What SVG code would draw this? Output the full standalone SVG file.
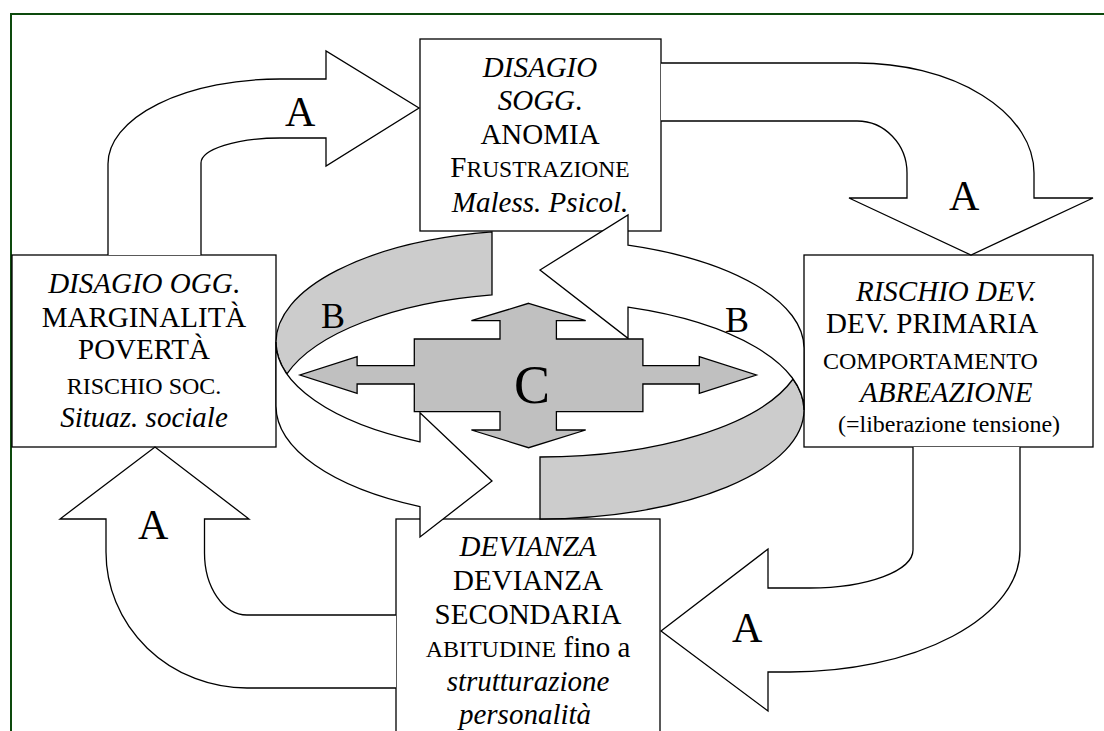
<svg xmlns="http://www.w3.org/2000/svg" width="1104" height="731" viewBox="0 0 1104 731">
<style>
.box{fill:#fff;stroke:#000;stroke-width:1.3}
.arr{fill:#fff;stroke:#000;stroke-width:1.3;stroke-linejoin:miter}
.back{fill:#cccccc;stroke:#000;stroke-width:1.3}
.cross{fill:#c0c0c0;stroke:#000;stroke-width:1.3}
text{font-family:"Liberation Serif","Times New Roman",serif;fill:#000}
.t{font-size:29px}
.s{font-size:24px}
.sc{font-size:23.5px}
.i{font-style:italic}
.lbl{font-size:42px}
.lb{font-size:36px}
.mid{text-anchor:middle}
</style>
<rect width="1104" height="731" fill="#fff"/>
<g id="frame" stroke="#0d4a0d" stroke-width="2" fill="none">
<path d="M11,731 L11,14 L1104,14"/>
</g>
<g id="n-top">
<rect class="box" x="420" y="39" width="241" height="192"/>
<text class="t i mid" x="540" y="77">DISAGIO</text>
<text class="t mid" x="540" y="110"><tspan font-style="italic">SOGG</tspan>.</text>
<text class="t mid" x="540" y="144">ANOMIA</text>
<text class="t mid" x="540" y="177">F<tspan class="sc">RUSTRAZIONE</tspan></text>
<text class="t i mid" x="540" y="211.5">Maless. Psicol.</text>
</g>
<g id="n-left">
<rect class="box" x="12" y="255" width="264" height="192"/>
<text class="t mid" x="144" y="292.5"><tspan font-style="italic">DISAGIO OGG</tspan>.</text>
<text class="t mid" x="144" y="327">MARGINALITÀ</text>
<text class="t mid" x="144" y="359">POVERTÀ</text>
<text class="s mid" x="144" y="394">RISCHIO SOC.</text>
<text class="t i mid" x="144" y="426.5">Situaz. sociale</text>
</g>
<g id="n-right">
<rect class="box" x="804" y="255" width="289" height="192"/>
<text class="t i" x="856" y="301">RISCHIO DEV.</text>
<text class="t" x="826" y="332.5">DEV. PRIMARIA</text>
<text class="s" x="823" y="369">COMPORTAMENTO</text>
<text class="t i" x="860" y="401.5">ABREAZIONE</text>
<text class="s" x="838" y="431.5">(=liberazione tensione)</text>
</g>
<g id="n-bottom">
<rect class="box" x="396" y="519" width="264" height="240"/>
<text class="t i mid" x="528" y="556">DEVIANZA</text>
<text class="t mid" x="528" y="590">DEVIANZA</text>
<text class="t mid" x="528" y="624">SECONDARIA</text>
<text class="t mid" x="528" y="657"><tspan class="s">ABITUDINE</tspan> fino a</text>
<text class="t i mid" x="528" y="690.5">strutturazione</text>
<text class="t i mid" x="525" y="724">personalità</text>
</g>
<g id="connectors">
<g id="a-left-top">
<path class="arr" d="M108,255 L108,164 A172 85 0 0 1 280,79 L326,79 L326,51 L419,108 L326,166 L326,138 L280,138 A79 25 0 0 0 201,163 L201,255"/>
<text class="lbl" x="285" y="126">A</text>
</g>
<g id="a-top-right">
<path class="arr" d="M661,63 L857,63 A177 110 0 0 1 1034,173 L1034,198 L1093,198 L971,255 L849,198 L907,198 L907,173 A50 52 0 0 0 857,121 L661,121"/>
<text class="lbl" x="949" y="210">A</text>
</g>
<g id="a-right-bottom">
<path class="arr" d="M913,447 L913,550 A103 38 0 0 1 810,588 L768,588 L768,549 L661,631 L768,711 L768,672 L790,672 A230 122 0 0 0 1020,550 L1020,447"/>
<text class="lbl" x="732" y="642">A</text>
</g>
<g id="a-bottom-left">
<path class="arr" d="M396,615 L247,615 A42.5 62 0 0 1 204.5,553 L204.5,519 L249,519 L155,447 L60,519 L106,519 L106,552 A141 136 0 0 0 247,688 L396,688"/>
<text class="lbl" x="138" y="539">A</text>
</g>
<g id="b-left">
<path class="back" d="M492,231.9 A264 112 0 0 0 276,342 A264 112 0 0 0 286.9,373.9 A264 113 0 0 1 492,294.9 Z"/>
<path class="arr" d="M276,342 L276,406 A264 113 0 0 0 420,506.7 L420,537 L492,481 L420,412.7 L420,441.8 A264 112 0 0 1 276,342 Z"/>
<text class="lb" x="321" y="328">B</text>
</g>
<g id="b-right">
<path class="back" d="M540,519 A264 109 0 0 0 804,410 A264 109 0 0 0 793.1,379 A264 109 0 0 1 540,457 Z"/>
<path class="arr" d="M804,410 L804,348 A264 109 0 0 0 628,245.2 L628,215 L540,270 L628,338.3 L628,307.2 A264 109 0 0 1 804,410 Z"/>
<text class="lb" x="725" y="332">B</text>
</g>
</g>
<g id="c-cross">
<path class="cross" d="M528.6,303.3 L585.7,320.7 L556.4,320.7 L556.4,339 L642.9,339 L642.9,365.7 L699.3,365.7 L699.3,356.7 L756.4,375 L699.3,393.3 L699.3,384 L642.9,384 L642.9,411.7 L556.4,411.7 L556.4,430 L585.7,430 L528.6,447.7 L471.4,430 L500,430 L500,411.7 L414.3,411.7 L414.3,384 L357.1,384 L357.1,393.3 L300,375 L357.1,356.7 L357.1,365.7 L414.3,365.7 L414.3,339 L500,339 L500,320.7 L471.4,320.7 Z"/>
<text class="mid" x="532" y="402.5" font-size="54">C</text>
</g>
</svg>
